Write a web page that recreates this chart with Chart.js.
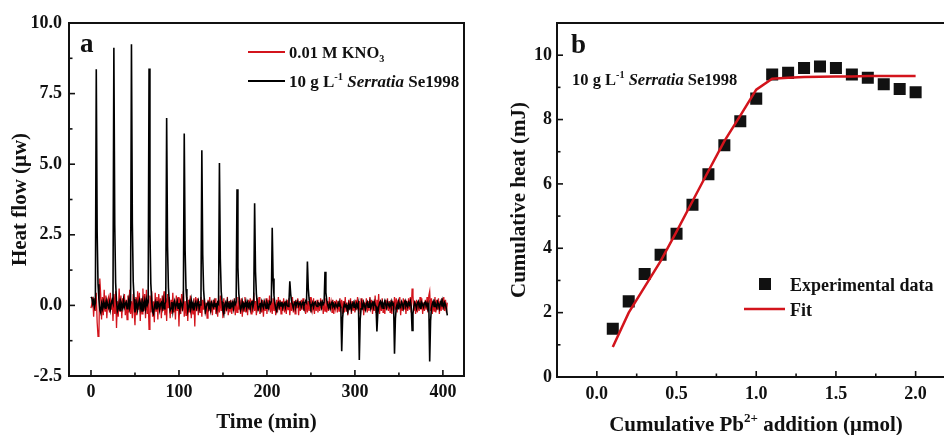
<!DOCTYPE html>
<html>
<head>
<meta charset="utf-8">
<script src="https://cdn.jsdelivr.net/npm/chart.js@4.4.1/dist/chart.umd.min.js"></script>
<style>
  html, body { margin: 0; padding: 0; background: #fff; overflow: hidden; }
  #wrap { position: relative; width: 944px; height: 435px; overflow: hidden; }
  canvas { position: absolute; top: 0; }
  #chart-a { left: 0; }
  #chart-b { left: 470px; }
</style>
</head>
<body>
<div id="wrap">
  <canvas id="chart-a" width="470" height="435"></canvas>
  <canvas id="chart-b" width="486" height="435"></canvas>
</div>
<script>
// ---- panel a: heat flow, one sample per minute ----
const timeStepMin = 1;

const kno3Flow = [
  -0.10, 0.05, 0.30, -0.40, 0.25, -0.20, 0.45, -0.60, -1.10, -1.05, 0.95, 0.40, -0.50, 0.30, -0.35, 0.55, -0.20, 0.35, -0.45, 0.20,
  0.30, -0.25, 0.45, -0.15, 0.20, -0.55, 0.40, -0.30, 0.50, -0.80, 0.15, -0.40, 0.60, -0.20, 0.35, -0.45, 0.25, -0.10, 0.40, -0.35,
  0.20, -0.50, 0.35, -0.25, 0.55, -0.30, 0.15, -0.45, 0.40, -0.20, -0.70, 0.30, -0.35, 0.50, -0.15, 0.45, -0.55, 0.25, -0.30, 0.60,
  -0.20, 0.40, -0.45, 0.55, -0.30, 0.20, -0.85, 0.35, -0.25, 0.50, -0.40, 0.15, -0.60, 0.45, -0.20, 0.30, -0.50, 0.40, -0.15, 0.25,
  -0.45, 0.35, -0.20, 0.50, -0.35, 0.25, -0.55, 0.40, -0.10, 0.30, -0.45, 0.20, -0.30, 0.45, -0.25, 0.15, -0.50, 0.35, -0.20, 0.30,
  -0.75, 0.25, -0.30, 0.40, -0.20, 0.50, -0.40, 0.15, -0.35, 0.30, -0.55, 0.20, -0.25, 0.35, -0.45, 0.10, -0.30, 0.25, -0.75, 0.30,
  -0.20, 0.25, -0.35, 0.15, -0.25, 0.30, -0.40, 0.20, -0.15, 0.25, -0.30, 0.10, -0.45, 0.20, -0.20, 0.30, -0.25, 0.15, -0.35, 0.20,
  -0.15, 0.25, -0.30, 0.10, -0.40, 0.20, -0.25, 0.35, -0.20, 0.15, -0.45, 0.25, -0.30, 0.10, -0.20, 0.30, -0.35, 0.15, -0.25, 0.20,
  -0.30, 0.15, -0.20, 0.25, -0.35, 0.10, -0.25, 0.30, -0.15, 0.20, -0.30, 0.25, -0.40, 0.15, -0.20, 0.30, -0.25, 0.10, -0.35, 0.20,
  -0.15, 0.25, -0.30, 0.20, -0.25, 0.45, -0.20, 0.15, -0.35, 0.25, -0.20, 0.30, -0.30, 0.10, -0.25, 0.20, -0.40, 0.15, -0.20, 0.25,
  -0.30, 0.20, -0.15, 0.35, -0.25, 0.15, -0.30, 0.25, -0.20, 0.10, -0.35, 0.20, -0.25, 0.30, -0.15, 0.20, -0.30, 0.15, -0.20, 0.25,
  -0.25, 0.15, -0.30, 0.20, -0.15, 0.25, -0.35, 0.10, -0.20, 0.30, -0.25, 0.15, -0.30, 0.20, -0.10, 0.25, -0.35, 0.15, -0.20, 0.20,
  -0.15, 0.25, -0.20, 0.10, -0.30, 0.20, -0.25, 0.15, -0.20, 0.30, -0.25, 0.10, -0.15, 0.25, -0.30, 0.15, -0.20, 0.20, -0.25, 0.10,
  -0.20, 0.25, -0.15, 0.20, -0.30, 0.10, -0.20, 0.25, -0.25, 0.15, -0.20, 0.30, -0.15, 0.10, -0.25, 0.20, -0.30, 0.15, -0.10, 0.20,
  -0.25, 0.15, -0.20, 0.25, -0.10, 0.20, -0.30, 0.15, -0.25, 0.30, -0.20, 0.10, -0.35, 0.20, -0.15, 0.25, -0.30, 0.15, -0.20, 0.10,
  -0.25, 0.20, -0.15, 0.30, -0.20, 0.15, -0.30, 0.25, -0.15, 0.20, -0.35, 0.10, -0.20, 0.25, -0.25, 0.15, -0.20, 0.30, -0.15, 0.20,
  -0.30, 0.15, -0.20, 0.35, -0.25, 0.20, -0.15, 0.40, -0.30, 0.15, -0.20, 0.25, -0.25, 0.10, -0.30, 0.20, -0.15, 0.25, -0.20, 0.15,
  -0.25, 0.20, -0.30, 0.15, -0.20, 0.30, -0.15, 0.25, -0.25, 0.20, -0.10, 0.30, -0.35, 0.15, -0.20, 0.25, -0.15, 0.20, -0.30, 0.15,
  -0.20, 0.25, -0.15, 0.30, -0.25, 0.60, 0.35, -0.20, 0.15, -0.30, 0.20, -0.25, 0.15, -0.20, 0.30, -0.15, 0.25, -0.30, 0.10, -0.20,
  0.20, -0.15, 0.30, -0.25, 0.35, 0.50, -0.20, 0.25, -0.30, 0.15, -0.20, 0.30, -0.25, 0.20, -0.15, 0.25, -0.30, 0.15, -0.20, 0.25,
  -0.15, 0.30, -0.20, 0.20, -0.25, 0.10
];

const serratiaFlow = [
  0.30, 0.25, 0.05, 0.18, -0.05, 0.10, 8.36, 2.60, 0.75, 0.20, -0.15, -0.25, 0.05, -0.10, 0.12, -0.05, 0.08, -0.12, 0.15, 0.02,
  -0.08, 0.10, -0.15, 0.05, 0.18, 0.08, 9.12, 2.85, 0.80, 0.15, -0.20, -0.10, 0.08, -0.18, 0.12, 0.02, -0.10, 0.20, -0.05, 0.06,
  0.12, -0.12, 0.05, 0.22, -0.08, 0.10, 9.25, 2.90, 0.85, 0.22, -0.25, -0.08, 0.10, -0.15, 0.05, 0.18, -0.10, 0.08, -0.20, 0.10,
  -0.05, 0.15, -0.10, 0.20, 0.02, 0.12, 8.39, 2.65, 0.78, 0.18, -0.22, -0.30, -0.05, 0.10, -0.12, 0.15, -0.02, 0.08, -0.15, 0.05,
  0.10, -0.08, 0.18, -0.12, 0.05, 0.14, 6.64, 2.10, 0.62, 0.12, -0.18, -0.10, 0.12, -0.20, 0.06, 0.16, -0.08, 0.02, 0.14, -0.10,
  0.08, -0.15, 0.12, 0.02, -0.10, 0.15, 6.09, 1.95, 0.58, 0.15, -0.20, -0.05, 0.10, -0.12, 0.18, -0.06, 0.08, -0.18, 0.04, 0.12,
  -0.08, 0.06, 0.16, -0.12, 0.02, 0.10, 5.49, 1.80, 0.55, 0.10, -0.22, -0.08, 0.06, 0.14, -0.10, 0.04, -0.16, 0.10, 0.02, -0.06,
  0.12, -0.04, 0.08, -0.14, 0.10, 0.05, 5.04, 1.65, 0.50, 0.12, -0.18, -0.30, 0.02, 0.10, -0.08, 0.14, -0.04, 0.06, -0.12, 0.08,
  -0.02, 0.10, -0.10, 0.14, 0.04, 0.12, 4.11, 1.35, 0.42, 0.08, -0.16, -0.06, 0.12, -0.10, 0.06, 0.02, 0.14, -0.08, 0.10, -0.04,
  0.06, -0.12, 0.08, 0.16, -0.06, 0.10, 3.62, 1.20, 0.40, 0.10, -0.14, -0.04, 0.08, -0.12, 0.12, 0.00, -0.08, 0.14, 0.04, -0.10,
  0.10, 0.02, -0.10, 0.12, 0.06, 0.14, 2.75, 0.95, 0.35, 0.06, -0.12, -0.20, 0.04, 0.10, -0.06, 0.08, -0.02, 0.12, -0.08, 0.04,
  0.08, -0.06, 0.12, 0.02, -0.04, 0.10, 0.85, 0.40, 0.15, 0.02, -0.10, 0.06, 0.12, -0.04, 0.08, 0.14, -0.02, 0.06, 0.10, -0.06,
  0.04, 0.12, -0.02, 0.08, 0.16, 0.10, 1.55, 0.60, 0.20, 0.05, -0.08, 0.02, 0.10, -0.06, 0.08, 0.12, 0.00, -0.04, 0.10, 0.06,
  0.02, 0.10, -0.06, 0.12, 0.04, 0.10, 1.19, 0.45, 0.18, 0.02, -0.08, 0.04, -0.10, 0.06, 0.12, -0.04, 0.02, -0.08, 0.06, 0.00,
  -0.06, 0.08, -0.02, 0.04, -0.08, -1.62, -0.45, -0.10, 0.06, -0.04, 0.02, -0.12, -0.20, 0.04, -0.08, 0.06, -0.14, 0.02, 0.10, -0.06,
  0.02, -0.10, 0.06, -0.04, 0.08, -1.93, -0.50, -0.12, 0.04, -0.08, 0.10, -0.02, -0.14, 0.06, 0.12, -0.06, 0.02, 0.14, -0.10, 0.04,
  0.10, -0.06, 0.12, 0.02, -0.04, -0.92, -0.30, -0.06, 0.08, 0.14, -0.02, 0.10, -0.10, 0.06, 0.16, 0.02, -0.08, 0.12, 0.04, -0.04,
  0.08, -0.04, 0.14, 0.02, 0.06, -1.71, -0.48, -0.08, 0.04, -0.12, 0.10, 0.00, -0.06, 0.12, 0.04, -0.10, 0.08, 0.16, -0.02, 0.06,
  -0.04, 0.10, 0.02, 0.14, -0.06, -0.89, -0.28, -0.04, 0.10, 0.02, -0.10, 0.08, 0.14, -0.04, 0.06, -0.12, 0.10, 0.02, -0.06, 0.08,
  0.12, -0.02, 0.08, -0.06, 0.04, -1.99, -0.55, -0.10, 0.06, 0.14, -0.04, 0.10, 0.02, -0.08, 0.12, 0.04, -0.10, 0.06, 0.16, -0.02,
  0.08, -0.06, 0.10, 0.02, -0.12, -0.35
];

const xTicksA = [0, 100, 200, 300, 400];
const xMinorA = [50, 150, 250, 350];
const yTicksA = [-2.5, 0, 2.5, 5, 7.5, 10];
const yMinorA = [-1.25, 1.25, 3.75, 6.25, 8.75];

// ---- panel b: cumulative heat ----
const pbAdded = [0.1, 0.2, 0.3, 0.4, 0.5, 0.6, 0.7, 0.8, 0.9, 1.0, 1.1, 1.2, 1.3, 1.4, 1.5, 1.6, 1.7, 1.8, 1.9, 2.0];
const cumHeat = [1.5, 2.35, 3.2, 3.8, 4.45, 5.35, 6.3, 7.2, 7.95, 8.65, 9.4, 9.45, 9.6, 9.65, 9.6, 9.4, 9.3, 9.1, 8.95, 8.85];
const fitHeat = [0.93, 2.0, 2.8, 3.6, 4.52, 5.46, 6.4, 7.33, 8.12, 8.93, 9.27, 9.3, 9.32, 9.33, 9.34, 9.34, 9.35, 9.35, 9.35, 9.35];

const xTicksB = [0, 0.5, 1.0, 1.5, 2.0];
const xMinorB = [0.25, 0.75, 1.25, 1.75];
const yTicksB = [0, 2, 4, 6, 8, 10];
const yMinorB = [1, 3, 5, 7, 9];

const RED = "#d3141c";
const INK = "#111";
const SERIF = '"Liberation Serif", "Times New Roman", serif';

const timeMin = kno3Flow.map((_, i) => i * timeStepMin);

// draws a line of mixed text: b = bold, bi = bold italic, sup / sub
function drawRuns(ctx, x, y, runs, size, align) {
  const fontFor = (kind) => {
    const s = kind === "sup" || kind === "sub" ? size * 0.62 : size;
    return (kind === "bi" ? "italic " : "") + "bold " + s + "px " + SERIF;
  };
  let total = 0;
  runs.forEach(([txt, kind]) => {
    ctx.font = fontFor(kind);
    total += ctx.measureText(txt).width;
  });
  let cx = align === "center" ? x - total / 2 : x;
  ctx.textAlign = "left";
  ctx.textBaseline = "alphabetic";
  runs.forEach(([txt, kind]) => {
    ctx.font = fontFor(kind);
    let dy = 0;
    if (kind === "sup") dy = -size * 0.42;
    if (kind === "sub") dy = size * 0.22;
    ctx.fillText(txt, cx, y + dy);
    cx += ctx.measureText(txt).width;
  });
}

// frame plus inward major / minor ticks
function framePlugin(minorX, minorY) {
  return {
    id: "frame",
    afterDraw(chart) {
      const { ctx, chartArea: a, scales } = chart;
      ctx.save();
      ctx.strokeStyle = INK;
      ctx.lineWidth = 1.6;
      const tick = (scale, v, len) => {
        const p = scale.getPixelForValue(v);
        ctx.beginPath();
        if (scale.isHorizontal()) {
          ctx.moveTo(p, a.bottom);
          ctx.lineTo(p, a.bottom - len);
        } else {
          ctx.moveTo(a.left, p);
          ctx.lineTo(a.left + len, p);
        }
        ctx.stroke();
      };
      scales.x.ticks.forEach((t) => tick(scales.x, t.value, 6));
      scales.y.ticks.forEach((t) => tick(scales.y, t.value, 6));
      minorX.forEach((v) => tick(scales.x, v, 3.5));
      minorY.forEach((v) => tick(scales.y, v, 3.5));
      ctx.lineWidth = 2;
      ctx.strokeRect(a.left, a.top, a.right - a.left, a.bottom - a.top);
      ctx.restore();
    },
  };
}

function axisFont(size) {
  return { family: SERIF, size: size, weight: "bold" };
}

// ---- chart a ----
const chartA = new Chart(document.getElementById("chart-a"), {
  type: "line",
  data: {
    datasets: [
      {
        label: "0.01 M KNO3",
        data: timeMin.map((t, i) => ({ x: t, y: kno3Flow[i] })),
        borderColor: RED,
        borderWidth: 1.3,
        pointRadius: 0,
        tension: 0,
        order: 1,
      },
      {
        label: "10 g L-1 Serratia Se1998",
        data: timeMin.map((t, i) => ({ x: t, y: serratiaFlow[i] })),
        borderColor: "#000",
        borderWidth: 1.6,
        pointRadius: 0,
        tension: 0,
        order: 0,
      },
    ],
  },
  options: {
    responsive: false,
    animation: false,
    layout: { padding: { top: 23, right: 6, left: 0, bottom: 0 } },
    plugins: { legend: { display: false }, tooltip: { enabled: false } },
    scales: {
      x: {
        type: "linear",
        min: -25,
        max: 424,
        grid: { display: false, drawTicks: false },
        border: { display: false },
        afterBuildTicks: (s) => { s.ticks = xTicksA.map((v) => ({ value: v })); },
        afterFit: (s) => { s.height = 59; },
        ticks: { color: INK, font: axisFont(18), padding: 6, maxRotation: 0 },
        title: { display: true, text: "Time (min)", color: INK, font: axisFont(21), padding: { top: 0, bottom: 0 } },
      },
      y: {
        min: -2.5,
        max: 10,
        grid: { display: false, drawTicks: false },
        border: { display: false },
        afterBuildTicks: (s) => { s.ticks = yTicksA.map((v) => ({ value: v })); },
        afterFit: (s) => { s.width = 69; },
        ticks: { color: INK, font: axisFont(18), padding: 7, callback: (v) => v.toFixed(1) },
        title: { display: true, text: "Heat flow (μw)", color: INK, font: axisFont(21), padding: { top: 8, bottom: 0 } },
      },
    },
  },
  plugins: [
    framePlugin(xMinorA, yMinorA),
    {
      id: "labelsA",
      afterDraw(chart) {
        const { ctx } = chart;
        const ds = chart.data.datasets;
        ctx.save();
        ctx.fillStyle = INK;
        drawRuns(ctx, 80, 52, [["a", "b"]], 27);
        const rows = [
          { color: ds[0].borderColor, y: 52, size: 16.5, runs: [["0.01 M KNO", "b"], ["3", "sub"]] },
          { color: ds[1].borderColor, y: 81, size: 17, runs: [["10 g L", "b"], ["-1", "sup"], [" ", "b"], ["Serratia", "bi"], [" Se1998", "b"]] },
        ];
        rows.forEach((r) => {
          ctx.strokeStyle = r.color;
          ctx.lineWidth = 2;
          ctx.beginPath();
          ctx.moveTo(248, r.y);
          ctx.lineTo(285, r.y);
          ctx.stroke();
          ctx.fillStyle = INK;
          drawRuns(ctx, 289, r.y + 6, r.runs, r.size);
        });
        ctx.restore();
      },
    },
  ],
});

// ---- chart b ----
const chartB = new Chart(document.getElementById("chart-b"), {
  type: "scatter",
  data: {
    datasets: [
      {
        type: "line",
        label: "Fit",
        data: pbAdded.map((x, i) => ({ x: x, y: fitHeat[i] })),
        borderColor: RED,
        borderWidth: 2.5,
        pointRadius: 0,
        tension: 0,
        order: 0,
      },
      {
        type: "scatter",
        label: "Experimental data",
        data: pbAdded.map((x, i) => ({ x: x, y: cumHeat[i] })),
        pointStyle: "rect",
        pointRadius: 8.5,
        backgroundColor: INK,
        borderWidth: 0,
        order: 1,
      },
    ],
  },
  options: {
    responsive: false,
    animation: false,
    layout: { padding: { top: 23, right: 3, left: 0, bottom: 0 } },
    plugins: { legend: { display: false }, tooltip: { enabled: false } },
    scales: {
      x: {
        type: "linear",
        min: -0.25,
        max: 2.2,
        grid: { display: false, drawTicks: false },
        border: { display: false },
        afterBuildTicks: (s) => { s.ticks = xTicksB.map((v) => ({ value: v })); },
        afterFit: (s) => { s.height = 58; },
        ticks: { color: INK, font: axisFont(18), padding: 7, maxRotation: 0, callback: (v) => v.toFixed(1) },
        title: { display: false },
      },
      y: {
        min: 0,
        max: 11,
        grid: { display: false, drawTicks: false },
        border: { display: false },
        afterBuildTicks: (s) => { s.ticks = yTicksB.map((v) => ({ value: v })); },
        afterFit: (s) => { s.width = 87; },
        ticks: { color: INK, font: axisFont(18), padding: 5 },
        title: { display: true, text: "Cumulative heat (mJ)", color: INK, font: axisFont(21), padding: { top: 37, bottom: 0 } },
      },
    },
  },
  plugins: [
    framePlugin(xMinorB, yMinorB),
    {
      id: "labelsB",
      afterDraw(chart) {
        const { ctx } = chart;
        ctx.save();
        ctx.fillStyle = INK;
        drawRuns(ctx, 101, 53, [["b", "b"]], 27);
        drawRuns(ctx, 102, 85, [["10 g L", "b"], ["-1", "sup"], [" ", "b"], ["Serratia", "bi"], [" Se1998", "b"]], 16.5);
        // x title with superscript charge
        drawRuns(ctx, 286, 431,
          [["Cumulative Pb", "b"], ["2+", "sup"], [" addition (μmol)", "b"]], 21, "center");
        // legend
        const sq = chart.data.datasets[1];
        const fit = chart.data.datasets[0];
        ctx.fillStyle = sq.backgroundColor;
        ctx.fillRect(295 - 6, 284 - 6, 12, 12);
        ctx.strokeStyle = fit.borderColor;
        ctx.lineWidth = 2.5;
        ctx.beginPath();
        ctx.moveTo(274, 309);
        ctx.lineTo(315, 309);
        ctx.stroke();
        ctx.fillStyle = INK;
        drawRuns(ctx, 320, 291, [["Experimental data", "b"]], 18);
        drawRuns(ctx, 320, 316, [["Fit", "b"]], 18);
        ctx.restore();
      },
    },
  ],
});
</script>
</body>
</html>
